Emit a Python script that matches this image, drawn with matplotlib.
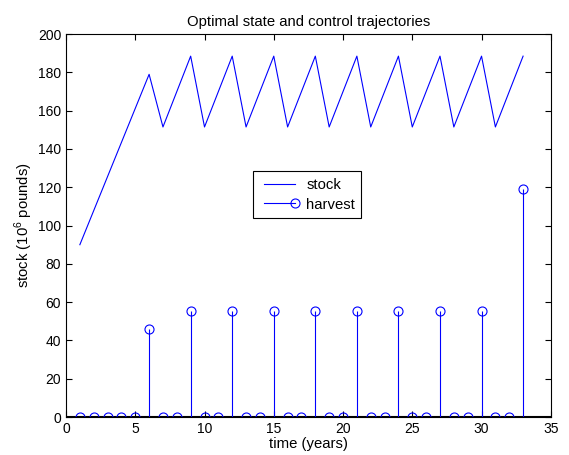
import matplotlib.pyplot as plt
from matplotlib.lines import Line2D
from matplotlib.legend_handler import HandlerLine2D
import numpy as np

plt.rcParams['font.family'] = ['Liberation Sans', 'DejaVu Sans']
plt.rcParams['mathtext.fontset'] = 'custom'
plt.rcParams['mathtext.rm'] = 'Liberation Sans'

# data
t = np.arange(1, 34)
stock = [90, 107.8, 125.6, 143.4, 161.2, 179,
         151.5, 170, 188.5, 151.5, 170, 188.5, 151.5, 170, 188.5,
         151.5, 170, 188.5, 151.5, 170, 188.5, 151.5, 170, 188.5,
         151.5, 170, 188.5, 151.5, 170, 188.5, 151.5, 170, 188.5]
harvest = [0, 0, 0, 0, 0, 46,
           0, 0, 55.5, 0, 0, 55.5, 0, 0, 55.5,
           0, 0, 55.5, 0, 0, 55.5, 0, 0, 55.5,
           0, 0, 55.5, 0, 0, 55.5, 0, 0, 119]


class RightMarker(HandlerLine2D):
    # matlab style stem legend: line with a single marker at the right end
    def create_artists(self, legend, orig_handle, xdescent, ydescent,
                       width, height, fontsize, trans):
        arts = super().create_artists(legend, orig_handle, xdescent, ydescent,
                                      width, height, fontsize, trans)
        arts[-1].set_markevery([1])
        return arts


fig = plt.figure(figsize=(5.69, 4.55), dpi=100)
ax = fig.add_axes([0.116, 0.0835, 0.852, 0.8415])

ax.plot(t, stock, color='b', lw=0.8)
markers, stems, base = ax.stem(t, harvest, linefmt='b-', markerfmt='bo', basefmt='k-')
markers.set_markerfacecolor('none')
markers.set_markersize(6.5)
markers.set_markeredgewidth(0.8)
stems.set_linewidth(0.8)
base.set_visible(False)
ax.axhline(0, color='k', lw=1.5, zorder=1)

ax.set_xlim(0, 35)
ax.set_ylim(0, 200)
ax.set_xticks(np.arange(0, 36, 5))
ax.set_yticks(np.arange(0, 201, 20))
ax.tick_params(direction='in', top=True, right=True, length=4, labelsize=10)
for s in ax.spines.values():
    s.set_linewidth(0.8)

ax.set_title('Optimal state and control trajectories', fontsize=10.7)
ax.set_xlabel('time (years)', fontsize=10.7, labelpad=1)
ax.set_ylabel('stock (10$^6$ pounds)', fontsize=10.7, labelpad=2)

h_stock = Line2D([], [], color='b', lw=0.8)
h_harv = Line2D([], [], color='b', lw=0.8, marker='o', markerfacecolor='none',
                markersize=6.5, markeredgewidth=0.8)
leg = ax.legend([h_stock, h_harv], ['stock', 'harvest'], loc='lower left',
                bbox_to_anchor=(0.386, 0.52), fontsize=10.7, numpoints=2,
                handler_map={h_harv: RightMarker()},
                fancybox=False, edgecolor='k', framealpha=1, borderpad=0.42,
                handlelength=2.7, labelspacing=0.4, handletextpad=0.45, borderaxespad=0)
leg.get_frame().set_linewidth(0.8)

fig.savefig('out.png', dpi=100)
